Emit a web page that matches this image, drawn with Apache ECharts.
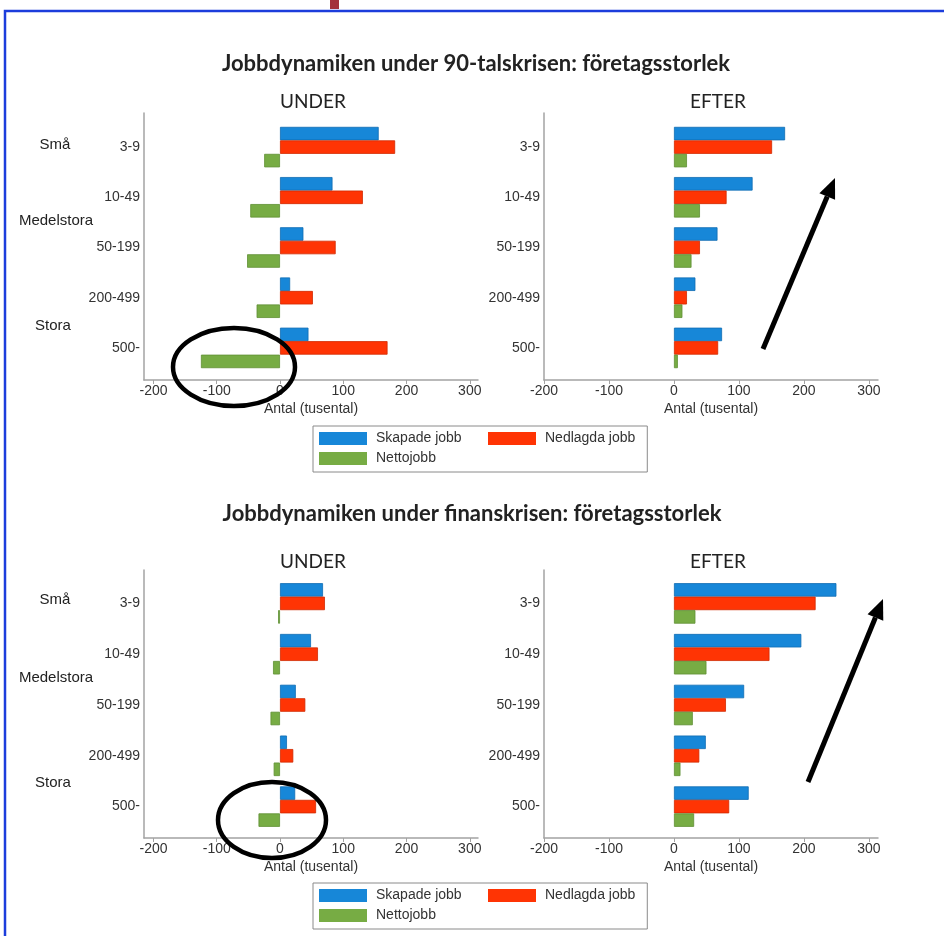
<!DOCTYPE html>
<html>
<head>
<meta charset="utf-8">
<title>Jobbdynamiken: företagsstorlek</title>
<script src="https://cdn.jsdelivr.net/npm/echarts@6/dist/echarts.min.js"></script>
<style>
  html, body { margin: 0; padding: 0; background: #fff; }
  #chart { width: 944px; height: 936px; }
</style>
</head>
<body>
<div id="chart"></div>
<script>
const sizeClasses = ["3-9", "10-49", "50-199", "200-499", "500-"];
const seriesNames = ["Skapade jobb", "Nedlagda jobb", "Nettojobb"];
const xTicks = [-200, -100, 0, 100, 200, 300];

// 90-talskrisen (tusental)
const k90UnderSkapade = [156, 83, 37, 16, 45];
const k90UnderNedlagda = [182, 131, 88, 52, 170];
const k90UnderNetto = [-25, -47, -52, -37, -125];
const k90EfterSkapade = [171, 121, 67, 33, 74];
const k90EfterNedlagda = [151, 81, 40, 20, 68];
const k90EfterNetto = [20, 40, 27, 13, 6];

// finanskrisen (tusental)
const finUnderSkapade = [68, 49, 25, 11, 24];
const finUnderNedlagda = [71, 60, 40, 21, 57];
const finUnderNetto = [-3, -11, -15, -10, -34];
const finEfterSkapade = [250, 196, 108, 49, 115];
const finEfterNedlagda = [218, 147, 80, 39, 85];
const finEfterNetto = [33, 50, 29, 10, 31];

const colors = ["#1787d8", "#ff3404", "#77ac44"];
const borders = ["#0f6cb3", "#d02a00", "#5f8f34"];

const sans = "'Liberation Sans', Arial, sans-serif";
const titleFont = "Lato, 'Open Sans', sans-serif";

// frame = axis box, data = band area where the bars sit
const panels = [
  { left: 144, top: 113, height: 267, dataTop: 122, dataHeight: 251, min: -215, max: 313,
    values: [k90UnderSkapade, k90UnderNedlagda, k90UnderNetto] },
  { left: 544, top: 113, height: 267, dataTop: 122, dataHeight: 251, min: -200, max: 314,
    values: [k90EfterSkapade, k90EfterNedlagda, k90EfterNetto] },
  { left: 144, top: 570, height: 268, dataTop: 578, dataHeight: 254, min: -215, max: 313,
    values: [finUnderSkapade, finUnderNedlagda, finUnderNetto] },
  { left: 544, top: 570, height: 268, dataTop: 578, dataHeight: 254, min: -200, max: 314,
    values: [finEfterSkapade, finEfterNedlagda, finEfterNetto] },
];

const grid = [], xAxis = [], yAxis = [], series = [];
const axisGrey = "#a3a3a3";

panels.forEach((p, i) => {
  const f = i * 2, d = i * 2 + 1;
  grid.push({ left: p.left, top: p.top, width: 334, height: p.height });
  grid.push({ left: p.left, top: p.dataTop, width: 334, height: p.dataHeight });

  xAxis.push({
    type: "value", gridIndex: f, min: p.min, max: p.max,
    axisLine: { show: true, onZero: false, lineStyle: { color: axisGrey, width: 1.5 } },
    axisTick: { show: true, customValues: xTicks, length: 4, lineStyle: { color: axisGrey } },
    axisLabel: { customValues: xTicks, margin: 4, fontSize: 14, color: "#333", fontFamily: sans },
    splitLine: { show: false },
    name: "Antal (tusental)", nameLocation: "middle", nameGap: 22,
    nameTextStyle: { fontSize: 14, color: "#333", fontFamily: sans },
  });
  xAxis.push({
    type: "value", gridIndex: d, min: p.min, max: p.max, show: false,
    splitLine: { show: false },
  });

  yAxis.push({
    type: "value", gridIndex: f, min: 0, max: 1,
    axisLine: { show: true, onZero: false, lineStyle: { color: axisGrey, width: 1.5 } },
    axisTick: { show: false }, axisLabel: { show: false }, splitLine: { show: false },
  });
  yAxis.push({
    type: "category", gridIndex: d, data: sizeClasses, inverse: true,
    axisLine: { show: false }, axisTick: { show: false },
    axisLabel: { margin: 4, fontSize: 14, color: "#333", fontFamily: sans },
  });

  p.values.forEach((vals, k) => {
    series.push({
      type: "bar", name: seriesNames[k], xAxisIndex: d, yAxisIndex: d,
      data: vals, barWidth: 13.5, barGap: "0%",
      itemStyle: { color: colors[k], borderColor: borders[k], borderWidth: 0.8 },
      silent: true,
    });
  });
});

function makeLegend(top) {
  return {
    left: 313, top: top, width: 330,
    orient: "horizontal", icon: "rect",
    itemWidth: 48, itemHeight: 13, itemGap: 3,
    padding: [4, 12, 5, 6],
    borderColor: "#8a8a8a", borderWidth: 1,
    itemStyle: { borderWidth: 0 },
    textStyle: { fontSize: 14, color: "#333", fontFamily: sans, lineHeight: 17, padding: [0, 0, 0, 4] },
    data: [
      { name: seriesNames[0], textStyle: { width: 109 } },
      seriesNames[1],
      seriesNames[2],
    ],
    selectedMode: false,
  };
}

function label(text, x, y, font) {
  return {
    type: "text", x: x, y: y, z: 50,
    style: { text: text, font: font, fill: "#222", align: "center", verticalAlign: "middle" },
  };
}

function arrow(x1, y1, x2, y2) {
  const len = Math.hypot(x2 - x1, y2 - y1);
  const ux = (x2 - x1) / len, uy = (y2 - y1) / len;
  const bx = x2 - ux * 20, by = y2 - uy * 20;
  return [
    { type: "line", z: 100, shape: { x1: x1, y1: y1, x2: bx, y2: by },
      style: { stroke: "#000", lineWidth: 5 } },
    { type: "polygon", z: 100,
      shape: { points: [[x2, y2], [bx - uy * 8.5, by + ux * 8.5], [bx + uy * 8.5, by - ux * 8.5]] },
      style: { fill: "#000" } },
  ];
}

const titleBold = "bold 22px " + titleFont;
const subTitle = "19px " + titleFont;
const groupFont = "15px " + sans;

const graphic = [
  // slide frame
  { type: "polyline", z: 100, shape: { points: [[5, 936], [5, 11], [944, 11]] },
    style: { stroke: "#1c3ddc", lineWidth: 2.5, fill: null } },
  { type: "rect", z: 100, shape: { x: 330, y: 0, width: 9, height: 9 }, style: { fill: "#a3303b" } },

  label("Jobbdynamiken under 90-talskrisen: företagsstorlek", 476, 64, titleBold),
  label("Jobbdynamiken under finanskrisen: företagsstorlek", 472, 514, titleBold),
  label("UNDER", 313, 102, subTitle),
  label("EFTER", 718, 102, subTitle),
  label("UNDER", 313, 562, subTitle),
  label("EFTER", 718, 562, subTitle),

  label("Små", 55, 145, groupFont),
  label("Medelstora", 56, 221, groupFont),
  label("Stora", 53, 326, groupFont),
  label("Små", 55, 600, groupFont),
  label("Medelstora", 56, 678, groupFont),
  label("Stora", 53, 783, groupFont),

  // annotations
  { type: "ellipse", z: 100, shape: { cx: 234, cy: 367, rx: 61, ry: 39 },
    style: { stroke: "#000", lineWidth: 4.5, fill: null } },
  { type: "ellipse", z: 100, shape: { cx: 272, cy: 820, rx: 54, ry: 38 },
    style: { stroke: "#000", lineWidth: 4.5, fill: null } },
  ...arrow(763, 349, 835, 178),
  ...arrow(808, 782, 883, 599),
];

const chart = echarts.init(document.getElementById("chart"));
chart.setOption({
  backgroundColor: "#fff",
  animation: false,
  grid: grid,
  xAxis: xAxis,
  yAxis: yAxis,
  legend: [makeLegend(426), makeLegend(883)],
  series: series,
  graphic: graphic,
});
</script>
</body>
</html>
